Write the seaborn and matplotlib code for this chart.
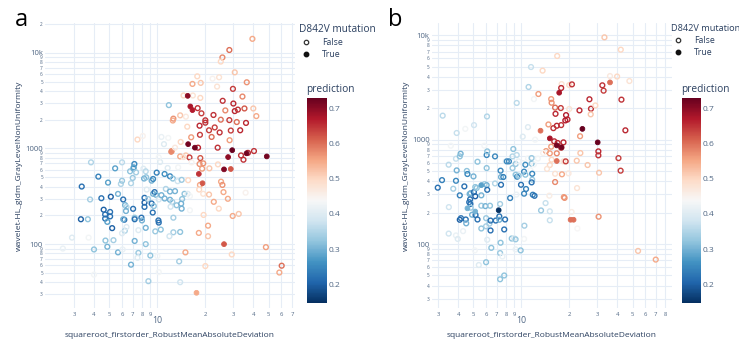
import numpy as np
import pandas as pd
import matplotlib
matplotlib.use("Agg")
import matplotlib.pyplot as plt
import seaborn as sns
from matplotlib.colors import Normalize
from matplotlib.cm import ScalarMappable
from matplotlib.lines import Line2D

# ---------------- data : panel a ----------------
a_x = [39.5, 28.3, 25.6, 25.0, 30.6, 17.8, 24.4, 22.2, 16.6, 18.7, 36.4, 23.7, 29.8, 14.6, 15.5, 16.7, 18.6, 34.2,
       25.7, 30.0, 35.2, 30.6, 32.0, 40.0, 26.7, 16.1, 16.6, 17.9, 11.8, 18.9, 22.5, 25.0, 20.0, 41.8, 12.6, 12.5,
       13.9, 15.1, 20.0, 28.3, 31.5, 36.0, 15.4, 18.4, 22.9, 21.1, 28.9, 33.1, 24.6, 18.5, 16.3, 21.9, 28.4, 14.0,
       15.6, 17.2, 18.0, 23.9, 29.5, 40.4, 37.0, 36.3, 12.2, 12.3, 7.5, 8.1, 10.6, 11.0, 11.7, 12.9, 15.1, 13.9,
       15.9, 14.6, 18.6, 27.8, 33.5, 34.7, 48.6, 24.0, 18.4, 19.4, 28.9, 26.2, 19.1, 21.2, 18.2, 19.2, 18.5, 15.6,
       25.1, 25.6, 18.3, 19.4, 21.1, 26.0, 35.8, 27.7, 22.6, 24.3, 32.4, 29.7, 19.5, 20.8, 18.2, 20.8, 26.2, 48.0,
       29.3, 20.0, 60.3, 58.3, 17.6,
       3.35, 4.26, 3.83, 5.43, 3.31, 3.66, 3.78, 2.91, 3.7, 2.55, 4.0, 4.0, 4.45, 4.6, 4.7, 4.85, 4.7, 4.9, 5.1,
       5.05, 5.05, 5.2, 4.72, 4.85, 5.3, 5.66, 5.66, 5.9, 6.1, 6.27, 6.4, 6.0, 6.0, 6.2, 6.1, 6.35, 6.25, 6.4, 6.0,
       6.05, 6.74, 6.83, 7.07, 7.17, 7.1, 7.35, 7.0, 7.04, 7.2, 7.2, 7.2, 7.6, 6.83, 7.5, 7.6, 8.17, 8.25, 8.45,
       8.5, 7.94, 8.0, 8.3, 8.3, 8.3, 8.57, 8.74, 8.45, 8.45, 8.78, 9.03, 9.2, 9.4, 9.9, 9.2, 9.4, 9.6, 9.8, 9.35,
       9.5, 9.7, 10.2, 10.15, 10.2, 10.0, 10.2, 10.5, 10.4, 11.1, 10.6, 11.1, 11.3, 12.0, 11.6, 12.0, 12.5, 12.0,
       12.4, 12.1, 12.6, 12.9, 13.4, 14.2, 13.2, 12.6, 11.9, 13.9, 14.8, 14.3, 14.1, 14.2, 15.5, 16.0, 16.0, 13.5,
       15.0, 13.7, 13.9, 16.4, 10.2]
a_y = [14000, 10700, 8950, 8100, 6250, 5680, 5550, 5370, 4730, 4850, 4920, 4440, 4200, 3580, 3550, 3580, 3380, 3490,
       3150, 2950, 2620, 2460, 2550, 2620, 2500, 2750, 2520, 2640, 2840, 2330, 2240, 2000, 1970, 2180, 2050, 1960,
       2220, 2150, 1860, 1980, 1890, 1850, 1690, 1730, 1660, 1550, 1540, 1550, 1470, 1390, 1310, 1320, 1220, 1170,
       1110, 1020, 1020, 1020, 960, 940, 900, 890, 920, 940, 1240, 1350, 1320, 1110, 1290, 1020, 846, 826,
       806, 815, 794, 813, 846, 763, 826, 682, 688, 699, 610, 605, 615, 620, 542, 433, 416, 466,
       450, 416, 372, 336, 330, 350, 345, 298, 277, 235, 207, 197, 202, 156, 131, 121, 100, 93,
       78, 59, 59.5, 50.5, 31,
       400, 508, 716, 620, 182, 182, 293, 117, 117, 90, 88, 48, 302, 229, 185, 171, 204, 440, 313,
       217, 195, 147, 109, 94, 110, 82, 335, 426, 293, 256, 245, 460, 716, 180, 182, 222, 138, 151, 130,
       88, 577, 433, 615, 688, 635, 563, 492, 234, 189, 182, 108, 81, 61, 72, 140, 615, 485, 577,
       500, 189, 177, 305, 272, 245, 372, 296, 148, 100, 41, 76, 461, 480, 559, 266, 336, 350, 328, 214,
       250, 136, 293, 177, 168, 75, 51, 142, 722, 541, 325, 300, 378, 355, 625, 512, 485, 291,
       276, 246, 189, 358, 455, 470, 255, 133, 121, 134, 336, 296, 265, 235, 336, 318, 226, 635,
       82, 66, 40, 716, 806]
a_pred = [0.55, 0.60, 0.58, 0.50, 0.52, 0.50, 0.48, 0.45, 0.55, 0.52, 0.57, 0.48, 0.64, 0.50, 0.70, 0.48, 0.50, 0.58,
          0.65, 0.66, 0.62, 0.66, 0.65, 0.52, 0.58, 0.68, 0.67, 0.65, 0.32, 0.64, 0.65, 0.60, 0.65, 0.55, 0.57, 0.55,
          0.52, 0.47, 0.65, 0.64, 0.60, 0.66, 0.50, 0.66, 0.64, 0.64, 0.64, 0.66, 0.65, 0.64, 0.56, 0.60, 0.56, 0.50,
          0.72, 0.72, 0.66, 0.65, 0.73, 0.65, 0.66, 0.72, 0.58, 0.57, 0.50, 0.45, 0.42, 0.40, 0.43, 0.47, 0.52, 0.55,
          0.64, 0.48, 0.62, 0.70, 0.65, 0.65, 0.72, 0.50, 0.57, 0.57, 0.62, 0.71, 0.56, 0.52, 0.65, 0.62, 0.55, 0.50,
          0.55, 0.57, 0.50, 0.48, 0.52, 0.55, 0.45, 0.55, 0.55, 0.50, 0.52, 0.55, 0.50, 0.55, 0.55, 0.52, 0.62, 0.56,
          0.50, 0.50, 0.60, 0.55, 0.55,
          0.22, 0.24, 0.35, 0.28, 0.20, 0.32, 0.34, 0.40, 0.43, 0.42, 0.32, 0.43, 0.22, 0.20, 0.22, 0.28, 0.22, 0.28, 0.20,
          0.22, 0.22, 0.20, 0.32, 0.30, 0.34, 0.30, 0.30, 0.35, 0.22, 0.30, 0.35, 0.33, 0.36, 0.22, 0.30, 0.30, 0.35, 0.40, 0.40,
          0.42, 0.32, 0.35, 0.30, 0.25, 0.28, 0.34, 0.33, 0.22, 0.32, 0.22, 0.30, 0.33, 0.30, 0.40, 0.40, 0.40, 0.30, 0.36,
          0.32, 0.22, 0.30, 0.22, 0.20, 0.22, 0.40, 0.34, 0.30, 0.32, 0.34, 0.32, 0.30, 0.25, 0.24, 0.22, 0.30, 0.22, 0.30, 0.22,
          0.32, 0.33, 0.38, 0.22, 0.22, 0.43, 0.43, 0.32, 0.40, 0.26, 0.30, 0.30, 0.35, 0.30, 0.40, 0.25, 0.32, 0.30,
          0.34, 0.38, 0.34, 0.30, 0.38, 0.33, 0.32, 0.34, 0.38, 0.32, 0.32, 0.32, 0.30, 0.30, 0.40, 0.43, 0.43, 0.43,
          0.55, 0.34, 0.38, 0.45, 0.43]
a_true_idx = [14, 25, 26, 54, 55, 58, 61, 62, 75, 78, 82, 83, 86, 87, 106, 112]

# ---------------- data : panel b ----------------
b_x = [33.3, 42.2, 16.8, 11.5, 13.6, 36.1, 40.0, 47.8, 36.1, 32.3, 32.9, 17.9, 20.0, 20.8, 17.8, 17.3, 12.8, 11.1,
       12.0, 15.4, 15.5, 26.8, 42.6, 9.35, 6.08, 3.2, 3.92, 4.44, 5.04, 16.3, 17.7, 20.0, 23.2, 27.4, 29.2, 27.3,
       16.4, 19.1, 19.5, 18.9, 17.8, 16.7, 15.9, 14.8, 13.2, 24.2, 45.1, 23.4, 15.1, 16.1, 16.9, 16.7, 17.9, 18.4,
       30.2, 15.4, 17.8, 30.5, 30.5, 14.3, 15.1, 16.7, 23.5, 13.7, 16.7, 15.5, 18.4, 19.0, 22.3, 26.1, 40.8, 42.1,
       30.8, 15.1, 14.5, 16.3, 18.0, 19.8, 16.3, 15.0, 18.5, 18.7, 22.4, 20.4, 21.3, 20.7, 22.5, 30.6, 54.2, 70.0,
       2.98, 3.17, 3.49, 3.73, 3.5, 3.49, 3.88, 3.88, 3.98, 3.88, 3.92, 4.1, 4.1, 4.17, 4.15, 4.1, 4.3, 4.38, 4.47,
       4.5, 4.54, 4.58, 4.73, 4.76, 4.7, 4.78, 4.58, 4.8, 4.8, 4.9, 5.0, 5.03, 5.13, 5.13, 5.24, 5.13, 5.15, 5.3,
       5.3, 5.1, 5.4, 5.6, 5.6, 5.6, 5.6, 5.88, 6.05, 6.05, 6.05, 6.1, 6.1, 5.94, 6.0, 6.1, 6.0, 6.0, 6.3, 6.35,
       6.4, 6.47, 6.4, 6.83, 6.83, 6.9, 7.2, 7.27, 7.27, 7.45, 7.4, 7.45, 7.35, 7.4, 7.35, 7.35, 7.7, 7.8, 7.6,
       7.8, 7.9, 7.97, 8.1, 8.35, 8.5, 8.7, 9.0, 9.2, 9.2, 8.8, 8.8, 8.9, 9.2, 9.4, 9.6, 9.2, 9.35, 9.9, 9.95,
       10.2, 10.2, 10.4, 10.6, 10.4, 10.6, 10.45, 10.4, 11.0, 11.0, 11.4, 11.6, 11.6, 11.7, 11.6, 11.8, 12.1, 11.7,
       10.7, 12.2, 13.3, 14.2, 15.1, 15.1, 12.7, 12.0, 9.3, 3.6, 5.85, 9.6]
b_y = [9570, 7290, 6340, 4970, 4590, 4070, 4030, 3650, 3540, 3320, 2950, 3410, 3340, 3390, 3130, 2820, 2740, 3200,
       2450, 2450, 2260, 2440, 2420, 2250, 1670, 1700, 1160, 1270, 1380, 2030, 2010, 1970, 1910, 1980, 2130, 1750,
       1770, 1720, 1560, 1530, 1380, 1360, 1290, 1400, 1220, 1270, 1230, 1080, 1030, 965, 930, 882, 844, 943,
       943, 857, 838, 773, 708, 778, 740, 740, 745, 745, 625, 643, 620, 620, 629, 572, 666, 505,
       483, 572, 525, 472, 466, 476, 393, 291, 282, 277, 344, 171, 171, 203, 141, 183, 86, 71,
       347, 410, 576, 339, 226, 126, 404, 121, 112, 657, 508, 293, 171, 177, 734, 692, 133, 357, 172,
       158, 502, 469, 302, 268, 252, 242, 220, 308, 223, 191, 445, 315, 352, 287, 345, 205, 190, 615,
       172, 87, 63, 293, 233, 141, 367, 376, 367, 535, 713, 773, 331, 231, 177, 110, 67, 148, 157, 233,
       135, 92, 168, 381, 692, 168, 211, 184, 171, 439, 505, 370, 242, 103, 82, 46, 439, 50, 76,
       138, 172, 620, 620, 620, 276, 113, 114, 111, 89, 535, 692, 814, 462, 442, 452, 585, 713, 87, 370,
       597, 1070, 304, 576, 494, 462, 150, 112, 1320, 662, 510, 667, 590, 414, 390, 297, 290, 472,
       337, 1000, 210, 247, 206, 169, 660, 580, 298, 876, 876, 620]
b_pred = [0.52, 0.50, 0.50, 0.37, 0.50, 0.47, 0.50, 0.48, 0.60, 0.65, 0.64, 0.48, 0.50, 0.65, 0.66, 0.68, 0.56, 0.35,
          0.43, 0.56, 0.57, 0.66, 0.65, 0.36, 0.35, 0.36, 0.37, 0.43, 0.38, 0.60, 0.64, 0.48, 0.66, 0.65, 0.50, 0.52,
          0.66, 0.67, 0.66, 0.67, 0.65, 0.66, 0.65, 0.56, 0.60, 0.73, 0.66, 0.56, 0.68, 0.66, 0.66, 0.72, 0.72, 0.66,
          0.73, 0.56, 0.64, 0.66, 0.65, 0.56, 0.56, 0.58, 0.52, 0.45, 0.60, 0.50, 0.48, 0.64, 0.52, 0.52, 0.64, 0.64,
          0.52, 0.50, 0.48, 0.48, 0.55, 0.47, 0.58, 0.46, 0.56, 0.57, 0.48, 0.60, 0.60, 0.46, 0.44, 0.57, 0.52, 0.55,
          0.22, 0.24, 0.36, 0.34, 0.38, 0.38, 0.25, 0.42, 0.40, 0.37, 0.30, 0.24, 0.20, 0.22, 0.30, 0.32, 0.42, 0.22, 0.22,
          0.30, 0.32, 0.25, 0.30, 0.22, 0.22, 0.22, 0.30, 0.30, 0.33, 0.30, 0.30, 0.22, 0.32, 0.20, 0.32, 0.30, 0.22, 0.32,
          0.22, 0.43, 0.40, 0.30, 0.33, 0.32, 0.28, 0.34, 0.30, 0.32, 0.25, 0.32, 0.22, 0.30, 0.33, 0.40, 0.32, 0.34, 0.34, 0.32,
          0.22, 0.32, 0.22, 0.35, 0.25, 0.22, 0.15, 0.22, 0.30, 0.30, 0.25, 0.22, 0.34, 0.32, 0.33, 0.32, 0.24, 0.32, 0.42,
          0.22, 0.22, 0.42, 0.25, 0.25, 0.24, 0.32, 0.40, 0.33, 0.42, 0.33, 0.35, 0.32, 0.32, 0.25, 0.33, 0.33, 0.36, 0.32, 0.22,
          0.42, 0.40, 0.25, 0.26, 0.25, 0.32, 0.34, 0.43, 0.40, 0.43, 0.43, 0.33, 0.32, 0.33, 0.22, 0.24, 0.22, 0.25,
          0.24, 0.43, 0.33, 0.37, 0.38, 0.37, 0.43, 0.43, 0.42, 0.43, 0.43, 0.42]
b_true_idx = [8, 15, 44, 45, 48, 51, 52, 54, 64, 83, 84, 116, 125, 134, 154]

# ---------------- axis ticks ----------------
x_minor_a = [3, 4, 5, 6, 7, 8, 9, 20, 30, 40, 50, 60, 70]
x_minor_b = [3, 4, 5, 6, 7, 8, 9, 20, 30, 40, 50, 60, 70, 80]
y_major = [100, 1000, 10000]
y_major_labels = ["100", "1000", "10k"]
y_minor_a = [30, 40, 50, 60, 70, 80, 90, 200, 300, 400, 500, 600, 700, 800, 900,
             2000, 3000, 4000, 5000, 6000, 7000, 8000, 9000, 20000]
y_minor_b = [30, 40, 50, 60, 70, 80, 90, 200, 300, 400, 500, 600, 700, 800, 900,
             2000, 3000, 4000, 5000, 6000, 7000, 8000, 9000]

VMIN, VMAX = 0.146, 0.731
cmap = plt.get_cmap("RdBu_r")
norm = Normalize(VMIN, VMAX)

sns.set_theme(style="white")
plt.rcParams["font.family"] = ["Open Sans", "DejaVu Sans"]
TXT = "#2a3f5f"
TICK = "#506784"
GRID = "#e6edf6"

fig = plt.figure(figsize=(7.39, 3.41), dpi=100)


def make_df(xs, ys, ps, true_idx):
    mut = np.zeros(len(xs), dtype=bool)
    mut[true_idx] = True
    return pd.DataFrame({"x": xs, "y": ys, "pred": ps, "mut": mut})


def minor_lab(v):
    return str(int(v))[0]


def panel(rect, cbar_rect, df, xlim, ylim, x_minor, y_minor, letter, letter_pos, leg_x, leg_title_size):
    ax = fig.add_axes(rect)
    ax.set_xscale("log")
    ax.set_yscale("log")
    hollow = df[~df["mut"]]
    filled = df[df["mut"]]
    sns.scatterplot(data=hollow, x="x", y="y", hue="pred", palette="RdBu_r", hue_norm=norm,
                    s=12, linewidth=1.0, ax=ax, legend=False, zorder=3)
    coll = ax.collections[-1]
    coll.set_edgecolors(coll.get_facecolors())
    coll.set_facecolors("none")
    sns.scatterplot(data=filled, x="x", y="y", hue="pred", palette="RdBu_r", hue_norm=norm,
                    s=12, linewidth=0.6, ax=ax, legend=False, zorder=4)
    coll2 = ax.collections[-1]
    coll2.set_edgecolors(coll2.get_facecolors())

    ax.set_xlim(*xlim)
    ax.set_ylim(*ylim)
    ax.set_xticks([10], labels=["10"])
    ax.set_xticks(x_minor, labels=[minor_lab(v) for v in x_minor], minor=True)
    ax.set_yticks(y_major, labels=y_major_labels)
    ax.set_yticks(y_minor, labels=[minor_lab(v) for v in y_minor], minor=True)
    ax.tick_params(axis="x", which="major", length=0, pad=6, labelsize=6.3, labelcolor=TICK)
    ax.tick_params(axis="x", which="minor", length=0, pad=3, labelsize=4.2, labelcolor=TICK)
    ax.tick_params(axis="y", which="major", length=0, pad=1.5, labelsize=5.6, labelcolor=TICK)
    ax.tick_params(axis="y", which="minor", length=0, pad=1.5, labelsize=3.4, labelcolor=TICK)
    ax.grid(True, which="both", color=GRID, linewidth=0.8)
    ax.set_axisbelow(True)
    for sp in ax.spines.values():
        sp.set_visible(False)
    ax.set_xlabel("squareroot_firstorder_RobustMeanAbsoluteDeviation", fontsize=6.0, color=TXT, labelpad=5)
    ax.set_ylabel("wavelet-HL_gldm_GrayLevelNonUniformity", fontsize=6.1, color=TXT, labelpad=1.5)

    fig.text(letter_pos[0], letter_pos[1], letter, fontsize=17, color="black", ha="left", va="center")

    handles = [Line2D([], [], marker="o", linestyle="none", markersize=3.2, markerfacecolor="none",
                      markeredgecolor="#333333", markeredgewidth=0.9, label="False"),
               Line2D([], [], marker="o", linestyle="none", markersize=3.2, markerfacecolor="#111111",
                      markeredgecolor="#111111", label="True")]
    leg = fig.legend(handles=handles, title="D842V mutation", loc="upper left",
                     bbox_to_anchor=(leg_x, 1 - 24 / 341), frameon=False, fontsize=6.3,
                     title_fontsize=leg_title_size,
                     handletextpad=1.0, labelspacing=0.35, borderaxespad=0, borderpad=0, handlelength=1.6)
    leg.get_title().set_color(TXT)
    leg._legend_box.align = "left"
    for t in leg.get_texts():
        t.set_color(TXT)

    cax = fig.add_axes(cbar_rect)
    sm = ScalarMappable(norm=norm, cmap=cmap)
    cb = fig.colorbar(sm, cax=cax, ticks=[0.2, 0.3, 0.4, 0.5, 0.6, 0.7])
    cb.outline.set_visible(False)
    cax.tick_params(length=0, labelsize=6.0, labelcolor=TICK, pad=1.5)
    cax.text(-0.05, 1.015, "prediction", transform=cax.transAxes, fontsize=7.3, color=TXT,
             ha="left", va="bottom")
    return ax


df_a = make_df(a_x, a_y, a_pred, a_true_idx)
df_b = make_df(b_x, b_y, b_pred, b_true_idx)

panel([45 / 739, 1 - 308 / 341, 250 / 739, 285 / 341],
      [307 / 739, 1 - 303 / 341, 20 / 739, 205 / 341],
      df_a, (1.97, 73.1), (21.5, 20500), x_minor_a, y_minor_a, "a", (15 / 739, 1 - 20 / 341), 299 / 739, 7.3)
panel([431.7 / 739, 1 - 308 / 341, 240 / 739, 285 / 341],
      [682 / 739, 1 - 303 / 341, 19 / 739, 205 / 341],
      df_b, (2.73, 88.2), (24.4, 13130), x_minor_b, y_minor_b, "b", (388 / 739, 1 - 20 / 341), 671 / 739, 6.6)

fig.savefig("out.png", dpi=100)
